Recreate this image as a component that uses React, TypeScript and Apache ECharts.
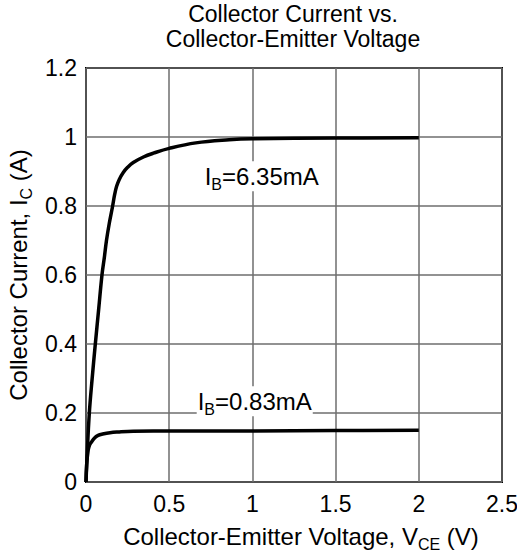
import React, { useEffect, useRef } from "react";
import * as echarts from "echarts";

const hiX = [0, 0.006, 0.02, 0.037, 0.056, 0.076, 0.096, 0.11, 0.123, 0.14, 0.16, 0.172, 0.184, 0.2, 0.224, 0.25, 0.284, 0.345, 0.405, 0.5, 0.66, 0.86, 1.0, 1.5, 2.0];
const hiY = [0, 0.07, 0.2, 0.3, 0.4, 0.5, 0.6, 0.65, 0.7, 0.75, 0.8, 0.833, 0.857, 0.877, 0.897, 0.912, 0.926, 0.942, 0.953, 0.967, 0.983, 0.992, 0.995, 0.997, 0.998];
const loX = [0, 0.004, 0.013, 0.022, 0.033, 0.05, 0.073, 0.1, 0.144, 0.2, 0.284, 0.405, 1.0, 1.5, 2.0];
const loY = [0, 0.05, 0.092, 0.108, 0.116, 0.127, 0.135, 0.139, 0.143, 0.145, 0.147, 0.148, 0.148, 0.149, 0.15];
const labelHi = { text: "6.35mA", x: 1.056, y: 0.886 };
const labelLo = { text: "0.83mA", x: 1.014, y: 0.234 };
const titleLines = ["Collector Current vs.", "Collector-Emitter Voltage"];

const FONT = '"Liberation Sans", Arial, Helvetica, sans-serif';

export default function App() {
  const ref = useRef<HTMLDivElement>(null);
  useEffect(() => {
    if (!ref.current) return;
    const chart = echarts.init(ref.current, undefined, { renderer: "svg" });
    const mk = (big: number, small: number) => ({
      m: { fontSize: big, fontFamily: FONT, color: "#000", lineHeight: 30, verticalAlign: "middle" as const },
      s: { fontSize: small, fontFamily: FONT, color: "#000", lineHeight: 30, verticalAlign: "bottom" as const, padding: [0, 0, -1, 0] },
    });
    const ann = (l: { text: string; x: number; y: number }) => ({
      coord: [l.x, l.y],
      symbolSize: 0,
      label: {
        show: true,
        position: "inside" as const,
        formatter: "{m|I}{s|B}{m|=" + l.text + "}",
        backgroundColor: "#fff",
        padding: [0, 1],
        rich: mk(24, 16),
      },
    });
    chart.setOption({
      animation: false,
      textStyle: { fontFamily: FONT },
      title: {
        text: titleLines.join("\n"),
        left: 288,
        top: -4,
        textAlign: "center",
        textStyle: { fontSize: 23, fontWeight: "normal", color: "#000", lineHeight: 25, fontFamily: FONT },
      },
      grid: {
        left: 86, right: 15, top: 68, bottom: 72,
        outerBoundsMode: "none",
        containLabel: false,
        show: true, borderColor: "#000", borderWidth: 2, backgroundColor: "transparent",
      },
      xAxis: {
        type: "value",
        min: 0,
        max: 2.5,
        interval: 0.5,
        axisLine: { show: false },
        axisTick: { show: false },
        axisLabel: { fontSize: 23, color: "#000", margin: 10, fontFamily: FONT },
        splitLine: { show: true, lineStyle: { color: "#6e6e6e", width: 1.5 } },
        name: "{m|Collector-Emitter Voltage, V}{s|CE}{m| (V)}",
        nameLocation: "middle",
        nameGap: 39,
        nameTextStyle: { rich: mk(24, 16), padding: [0, 0, 0, 14] },
      },
      yAxis: {
        type: "value",
        min: 0,
        max: 1.2,
        interval: 0.2,
        axisLine: { show: false },
        axisTick: { show: false },
        axisLabel: { fontSize: 23, color: "#000", margin: 9, fontFamily: FONT },
        splitLine: { show: true, lineStyle: { color: "#6e6e6e", width: 1.5 } },
        name: "{m|Collector Current, I}{s|C}{m| (A)}",
        nameLocation: "middle",
        nameRotate: 90,
        nameGap: 52,
        nameTextStyle: { rich: mk(24, 16) },
      },
      series: [
        {
          type: "line",
          data: hiX.map((x, i) => [x, hiY[i]]),
          showSymbol: false,
          smooth: 0.4,
          lineStyle: { color: "#000", width: 3.5 },
          z: 5,
          markPoint: { data: [ann(labelHi)], z: 4 },
        },
        {
          type: "line",
          data: loX.map((x, i) => [x, loY[i]]),
          showSymbol: false,
          smooth: 0.4,
          lineStyle: { color: "#000", width: 3.5 },
          z: 5,
          markPoint: { data: [ann(labelLo)], z: 4 },
        },
      ],
    });
    return () => chart.dispose();
  }, []);
  return <div ref={ref} style={{ width: 517, height: 554, position: "absolute", left: 0, top: 0 }} />;
}
